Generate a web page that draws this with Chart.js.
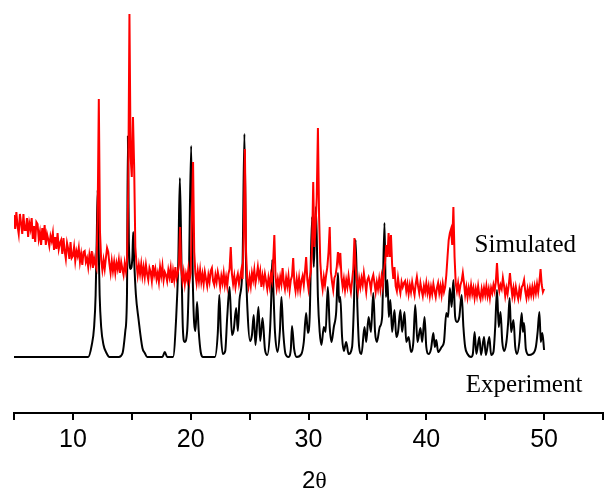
<!DOCTYPE html>
<html>
<head>
<meta charset="utf-8">
<script src="https://cdn.jsdelivr.net/npm/chart.js@4.4.1/dist/chart.umd.min.js"></script>
<style>
  html, body { margin: 0; padding: 0; background: #fff; }
  #wrap { width: 608px; height: 492px; }
</style>
</head>
<body>
<div id="wrap"><canvas id="chart"></canvas></div>
<script>
// 2theta axis
const X_MIN = 5;
const X_MAX = 55;
const TICK_STEP = 5;

const RED_START = 5.0;
const RED_STEP = 0.1;
const simulated = [
  142,128,145,131,123,143,134,123,143,127,
  127,139,120,134,128,139,118,131,115,135,
  133,118,125,112,129,117,132,112,123,118,
  111,121,116,124,107,120,108,124,108,114,
  117,103,119,106,98,114,108,98,115,99,
  101,110,96,106,101,109,95,103,92,105,
  106,95,99,90,102,94,106,89,99,93,
  89,140,258,125,97,87,97,88,99,109,
  105,93,84,96,86,95,84,94,88,97,
  84,95,88,82,94,86,97,170,343,200,
  180,240,190,110,93,82,92,83,93,81,
  90,80,92,83,77,89,85,76,92,82,
  88,78,84,75,90,81,91,77,85,82,
  76,87,80,89,74,86,77,90,79,84,
  92,130,87,76,85,73,83,77,88,76,
  84,140,195,105,83,74,86,76,87,75,
  83,73,85,78,71,82,75,86,89,76,
  72,82,75,85,79,70,81,74,84,72,
  80,71,83,88,110,83,73,81,70,78,
  83,73,80,87,78,120,208,105,77,70,
  80,71,84,77,87,74,81,90,79,86,
  70,81,73,83,76,68,79,71,82,76,
  95,122,80,69,78,70,80,73,89,75,
  68,79,71,81,67,77,81,99,74,66,
  78,68,79,67,76,81,72,85,100,77,
  68,79,85,110,175,110,130,160,229,140,
  95,77,68,80,72,82,90,105,130,85,
  75,67,79,82,90,105,95,104,80,70,
  78,67,77,70,81,72,65,76,88,119,
  90,75,66,78,70,79,72,84,75,65,
  77,80,75,67,78,82,74,65,75,68,
  78,68,80,71,85,95,112,100,124,100,
  122,92,78,90,71,66,79,70,64,75,
  70,74,76,66,73,63,72,65,75,68,
  62,73,80,71,64,74,67,61,71,65,
  74,64,71,61,70,63,73,66,60,69,
  74,64,71,62,73,65,70,82,100,117,
  124,128,112,150,100,73,66,74,64,72,
  76,84,74,62,70,60,69,62,72,63,
  69,59,68,61,71,62,58,68,61,69,
  62,71,61,68,59,69,64,72,66,75,
  94,74,66,72,68,79,71,61,69,63,
  72,84,71,61,69,60,70,63,58,68,
  61,70,72,77,66,59,68,61,69,62,
  70,62,71,64,73,65,75,88,72,65,
  68
];

// black pattern, [2theta, intensity] points
const experiment = [
  [5.0,0],[11.3,0],[11.6,12],[11.8,30],[11.93,62],[12.02,115],[12.1,167],[12.18,115],[12.27,62],[12.4,30],[12.6,12],[12.85,4],[13.1,0],
  [13.9,0],[14.22,4],[14.45,26],[14.59,62],[14.67,221],[14.75,115],[14.9,88],[15.05,100],[15.12,125],[15.2,97],[15.35,62],[15.57,38],[15.9,9],[16.1,4],[16.3,0],
  [17.6,0],[17.8,5],[18.0,0],
  [18.5,0],[18.77,40],[18.94,92],[19.08,179],[19.22,92],[19.33,30],[19.48,15],[19.7,26],[19.84,76],[20.04,211],[20.18,76],[20.4,26],[20.54,55],[20.68,26],[20.85,5],[21.05,0],
  [22.05,0],[22.3,24],[22.43,62],[22.56,24],[22.72,3],[22.93,6],[23.1,40],[23.3,70],[23.5,22],[23.65,27],[23.86,49],[24.0,26],[24.14,57],[24.4,92],[24.56,223],[24.7,92],[24.84,42],[25.04,16],[25.2,22],[25.35,42],[25.5,12],[25.75,50],[25.9,16],[26.1,39],[26.3,8],[26.5,2],[26.73,26],[26.84,60],[26.92,97],[27.04,60],[27.15,26],[27.37,5],[27.57,26],[27.7,60],[27.85,26],[28.05,3],[28.3,0],[28.5,8],[28.6,31],[28.78,8],[29.0,0],
  [29.4,3],[29.6,15],[29.8,44],[29.95,24],[30.1,40],[30.3,140],[30.45,90],[30.63,150],[30.8,60],[30.95,25],[31.1,12],[31.3,30],[31.45,25],[31.64,70],[31.8,30],[31.95,15],[32.15,30],[32.35,45],[32.5,84],[32.6,55],[32.7,60],[32.85,20],[33.0,6],[33.2,15],[33.4,3],[33.7,10],[33.85,50],[34.0,117],[34.15,50],[34.3,10],[34.5,3],[34.75,30],[34.9,15],[35.1,40],[35.3,25],[35.5,64],[35.65,25],[35.8,15],[36.05,30],[36.25,40],[36.45,134],[36.57,60],[36.7,77],[36.82,40],[36.95,57],[37.1,25],[37.3,47],[37.45,20],[37.6,25],[37.8,47],[37.95,25],[38.15,45],[38.3,15],[38.5,20],[38.7,5],[38.9,15],[39.06,52],[39.25,15],[39.5,29],[39.65,15],[39.85,40],[40.0,10],[40.2,3],[40.4,8],[40.6,24],[40.72,10],[40.85,17],[41.0,5],[41.3,10],[41.5,15],[41.7,44],[41.85,40],[42.0,69],[42.15,50],[42.3,77],[42.45,40],[42.6,35],[42.8,40],[43.0,62],[43.15,30],[43.3,10],[43.5,3],[43.8,0],[43.95,3],[44.1,25],[44.25,3],[44.5,20],[44.65,2],[44.9,20],[45.05,2],[45.35,20],[45.5,2],[45.7,5],[45.85,30],[46.0,67],[46.15,30],[46.3,45],[46.45,15],[46.6,6],[46.8,15],[46.95,35],[47.07,59],[47.2,25],[47.4,37],[47.55,10],[47.7,3],[47.9,15],[48.1,44],[48.2,25],[48.3,34],[48.45,8],[48.7,2],[49.0,3],[49.3,10],[49.45,25],[49.6,45],[49.72,15],[49.85,24],[50.0,7]
];

// curve labels: [text, 2theta, intensity]
const curveLabels = [
  ["Simulated", 44.1, 105],
  ["Experiment", 43.35, -35]
];
// axis title placed under the tick labels: [2theta centre, intensity of baseline]
const axisTitle = ["2", "θ", 30.5, -131];

const redPoints = simulated.map((v, i) => ({ x: RED_START + i * RED_STEP, y: v }));
const blackPoints = experiment.map((p) => ({ x: p[0], y: p[1] }));

const SANS = '"Liberation Sans", Arial, sans-serif';
const SERIF = '"Liberation Serif", "Times New Roman", serif';

const labelPlugin = {
  id: "curveLabels",
  afterDraw(chart) {
    const { ctx, scales } = chart;
    ctx.save();
    ctx.fillStyle = "#000";
    ctx.textBaseline = "alphabetic";
    ctx.textAlign = "left";
    ctx.font = "25px " + SERIF;
    curveLabels.forEach((l) => {
      ctx.fillText(l[0], scales.x.getPixelForValue(l[1]), scales.y.getPixelForValue(l[2]));
    });
    // 2θ : digit in sans, theta in serif like the original
    ctx.font = "24px " + SANS;
    const w1 = ctx.measureText(axisTitle[0]).width;
    ctx.font = "24px " + SERIF;
    const w2 = ctx.measureText(axisTitle[1]).width;
    const cx = scales.x.getPixelForValue(axisTitle[2]);
    const by = scales.y.getPixelForValue(axisTitle[3]);
    const left = cx - (w1 + w2) / 2;
    ctx.font = "24px " + SANS;
    ctx.fillText(axisTitle[0], left, by);
    ctx.font = "24px " + SERIF;
    ctx.fillText(axisTitle[1], left + w1, by);
    ctx.restore();
  },
};

const ctx = document.getElementById("chart");
new Chart(ctx, {
  type: "line",
  data: {
    datasets: [
      {
        label: "Simulated",
        data: redPoints,
        borderColor: "#ff0000",
        borderWidth: 2,
        tension: 0,
        pointRadius: 0,
        fill: false,
      },
      {
        label: "Experiment",
        data: blackPoints,
        borderColor: "#000000",
        borderWidth: 2,
        cubicInterpolationMode: "monotone",
        pointRadius: 0,
        fill: false,
      },
    ],
  },
  options: {
    responsive: true,
    maintainAspectRatio: false,
    animation: false,
    layout: { padding: { left: 14, right: 1, top: 0, bottom: 32 } },
    plugins: { legend: { display: false }, tooltip: { enabled: false } },
    scales: {
      x: {
        type: "linear",
        min: X_MIN,
        max: X_MAX,
        border: { display: true, color: "#000", width: 2 },
        grid: {
          drawOnChartArea: false,
          drawTicks: true,
          tickLength: 7,
          color: "#000",
          lineWidth: 2,
        },
        ticks: {
          stepSize: TICK_STEP,
          autoSkip: false,
          maxRotation: 0,
          padding: 5,
          color: "#000",
          font: { family: SANS, size: 25 },
          callback: (v) => (v % 10 === 0 && v > X_MIN && v < X_MAX ? v : ""),
        },
        title: { display: false },
      },
      y: {
        display: false,
        min: -56,
        max: 357,
      },
    },
  },
  plugins: [labelPlugin],
});
</script>
</body>
</html>
